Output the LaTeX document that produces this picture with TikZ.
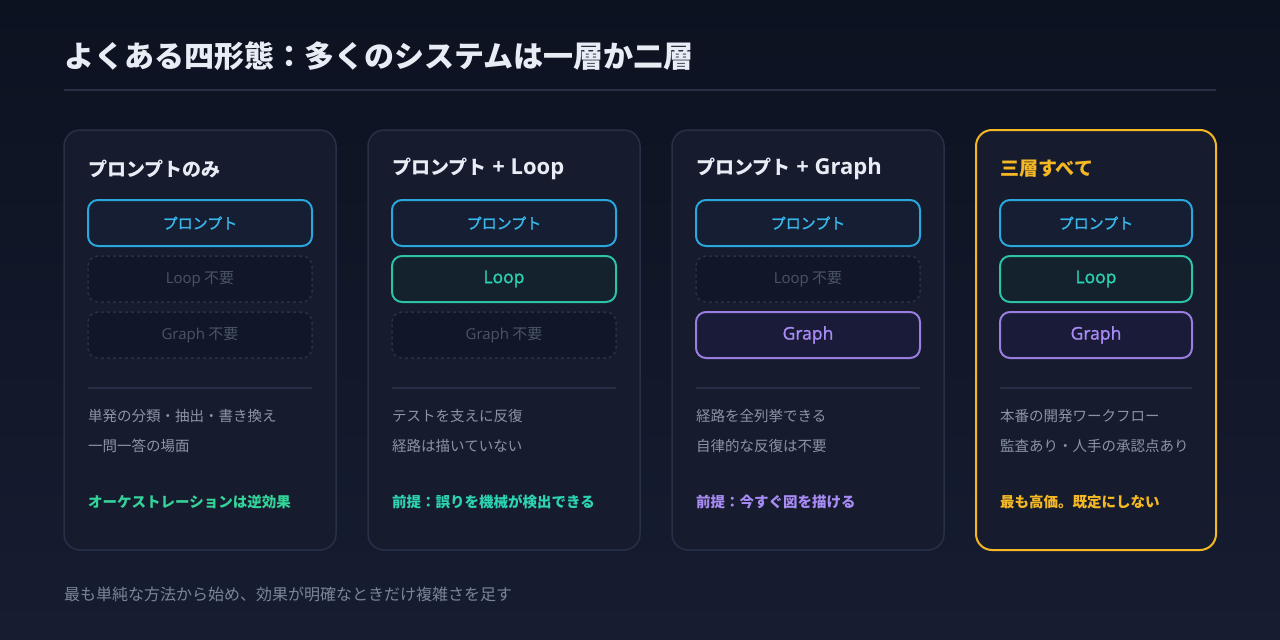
\documentclass[tikz,border=0pt]{standalone}
\usepackage{fontspec}
\setmainfont{Noto Sans CJK JP}
\newfontfamily\latinfont{Open Sans}
\newfontfamily\medfont{Noto Sans CJK JP}[FakeBold=1.6]
\newfontfamily\latinmed{Open Sans}[FakeBold=1.4]
\usetikzlibrary{positioning}

\definecolor{bgtop}{HTML}{0C1220}
\definecolor{bgbot}{HTML}{171D31}
\definecolor{cardfill}{HTML}{161C2E}
\definecolor{cardline}{HTML}{283048}
\definecolor{titletext}{HTML}{E8EDF5}
\definecolor{desctext}{HTML}{8B93A7}
\definecolor{foottext}{HTML}{7C8598}
\definecolor{promptline}{HTML}{2AA7DE}
\definecolor{prompttext}{HTML}{3AB5EA}
\definecolor{promptfill}{HTML}{151E33}
\definecolor{loopline}{HTML}{2BC2A6}
\definecolor{looptext}{HTML}{2DD4B4}
\definecolor{loopfill}{HTML}{13222C}
\definecolor{graphline}{HTML}{9A7DE0}
\definecolor{graphtext}{HTML}{A88BF5}
\definecolor{graphfill}{HTML}{191B38}
\definecolor{offfill}{HTML}{111728}
\definecolor{offtext}{HTML}{4A5468}
\definecolor{notegreen}{HTML}{34D399}
\definecolor{noteyellow}{HTML}{F5B824}

\tikzset{
  card/.style={draw=cardline, line width=1.5pt, fill=cardfill, rounded corners=16pt},
  layerbox/.style={rounded corners=10pt, line width=2pt, minimum height=46pt,
    inner sep=0pt, font=\fontsize{15}{18}\selectfont},
  promptbox/.style={layerbox, draw=promptline, fill=promptfill, text=prompttext},
  loopbox/.style={layerbox, draw=loopline, fill=loopfill, text=looptext},
  graphbox/.style={layerbox, draw=graphline, fill=graphfill, text=graphtext},
  offbox/.style={layerbox, draw=cardline, line width=1.5pt, dashed, fill=offfill, text=offtext},
  cardtitle/.style={anchor=west, inner sep=0pt, text=titletext, font=\fontsize{19}{22}\bfseries\selectfont},
  desc/.style={anchor=west, inner sep=0pt, text=desctext, font=\fontsize{14.5}{17}\selectfont},
  note/.style={anchor=west, inner sep=0pt, font=\fontsize{14.5}{17}\bfseries\selectfont},
  sep/.style={draw=cardline, line width=1.5pt}
}

\begin{document}
\begin{tikzpicture}[x=1pt, y=-1pt]
\useasboundingbox (0, 0) rectangle (1280, 640);
\shade[top color=bgtop, bottom color=bgbot] (0, 0) rectangle (1280, 640);

% title
\node[anchor=west, inner sep=0pt, text=titletext, font=\fontsize{30}{36}\bfseries\selectfont]
  (title) at (64, 56) {よくある四形態：多くのシステムは一層か二層};
\draw[draw=cardline, line width=2pt] (64, 90) -- (1216, 90);

% cards
\draw[card] (  64, 130) rectangle ( 336, 550);
\draw[card] ( 368, 130) rectangle ( 640, 550);
\draw[card] ( 672, 130) rectangle ( 944, 550);
\draw[card, draw=noteyellow, line width=2pt] (976, 130) rectangle (1216, 550);

% card 1
\node[cardtitle] (t1) at (88, 169) {プロンプトのみ};
\node[promptbox, minimum width=224pt] (p1) at (200, 223) {\medfont プロンプト};
\node[offbox,    minimum width=224pt] (l1) at (200, 279) {{\latinfont Loop} 不要};
\node[offbox,    minimum width=224pt] (g1) at (200, 335) {{\latinfont Graph} 不要};
\draw[sep] (88, 388) -- (312, 388);
\node[desc] (d1a) at (88, 416) {単発の分類・抽出・書き換え};
\node[desc] (d1b) at (88, 446) {一問一答の場面};
\node[note, text=notegreen] (n1) at (88, 502) {オーケストレーションは逆効果};

% card 2
\node[cardtitle] (t2) at (392, 169) {プロンプト{\latinfont\bfseries\fontsize{22}{24}\selectfont\ + Loop}};
\node[promptbox, minimum width=224pt] (p2) at (504, 223) {\medfont プロンプト};
\node[loopbox,   minimum width=224pt] (l2) at (504, 279) {\latinmed\fontsize{17.5}{20}\selectfont Loop};
\node[offbox,    minimum width=224pt] (g2) at (504, 335) {{\latinfont Graph} 不要};
\draw[sep] (392, 388) -- (616, 388);
\node[desc] (d2a) at (392, 416) {テストを支えに反復};
\node[desc] (d2b) at (392, 446) {経路は描いていない};
\node[note, text=looptext] (n2) at (392, 502) {前提：誤りを機械が検出できる};

% card 3
\node[cardtitle] (t3) at (696, 169) {プロンプト{\latinfont\bfseries\fontsize{22}{24}\selectfont\ + Graph}};
\node[promptbox, minimum width=224pt] (p3) at (808, 223) {\medfont プロンプト};
\node[offbox,    minimum width=224pt] (l3) at (808, 279) {{\latinfont Loop} 不要};
\node[graphbox,  minimum width=224pt] (g3) at (808, 335) {\latinmed\fontsize{17.5}{20}\selectfont Graph};
\draw[sep] (696, 388) -- (920, 388);
\node[desc] (d3a) at (696, 416) {経路を全列挙できる};
\node[desc] (d3b) at (696, 446) {自律的な反復は不要};
\node[note, text=graphtext] (n3) at (696, 502) {前提：今すぐ図を描ける};

% card 4
\node[cardtitle, text=noteyellow] (t4) at (1000, 169) {三層すべて};
\node[promptbox, minimum width=192pt] (p4) at (1096, 223) {\medfont プロンプト};
\node[loopbox,   minimum width=192pt] (l4) at (1096, 279) {\latinmed\fontsize{17.5}{20}\selectfont Loop};
\node[graphbox,  minimum width=192pt] (g4) at (1096, 335) {\latinmed\fontsize{17.5}{20}\selectfont Graph};
\draw[sep] (1000, 388) -- (1192, 388);
\node[desc] (d4a) at (1000, 416) {本番の開発ワークフロー};
\node[desc] (d4b) at (1000, 446) {監査あり・人手の承認点あり};
\node[note, text=noteyellow] (n4) at (1000, 502) {最も高価。既定にしない};

% footer
\node[anchor=west, inner sep=0pt, text=foottext, font=\fontsize{16}{18}\selectfont]
  (foot) at (64, 594) {最も単純な方法から始め、効果が明確なときだけ複雑さを足す};

\end{tikzpicture}
\end{document}
